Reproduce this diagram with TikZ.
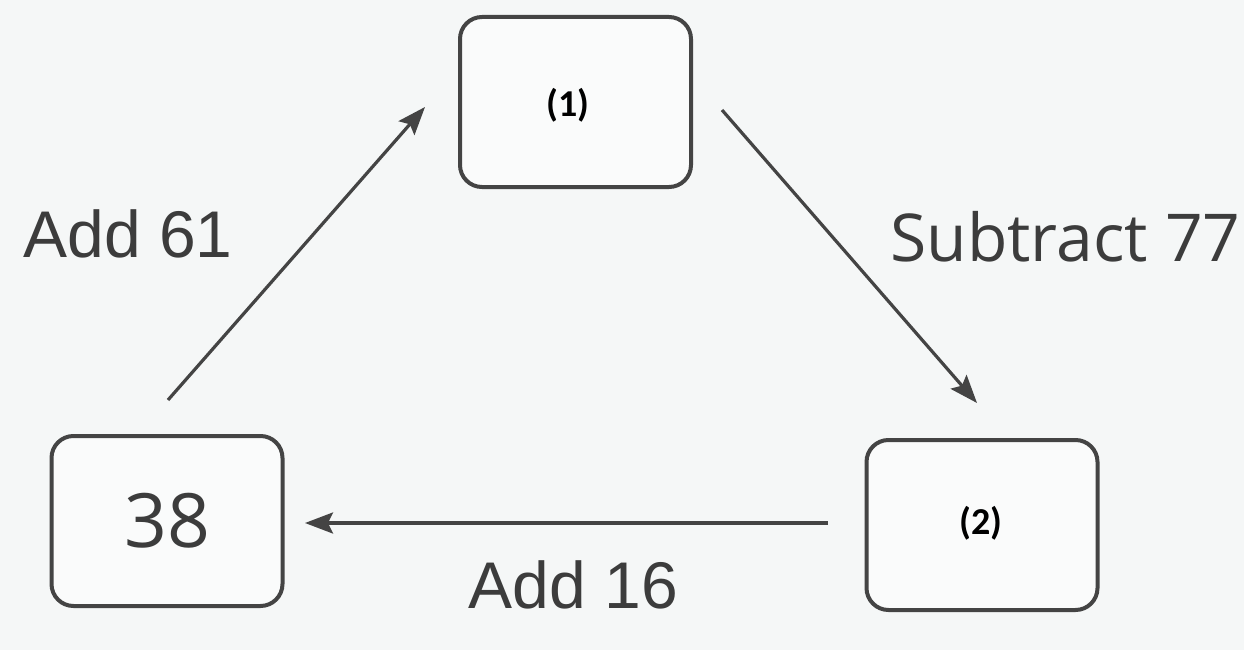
\documentclass[tikz,border=0pt]{standalone}
\usepackage{fontspec}
\setmainfont{Liberation Sans}
\newfontfamily\humfont{Open Sans}
\newfontfamily\calfont{Carlito}
\usetikzlibrary{arrows.meta}
\definecolor{bgc}{HTML}{F5F7F7}
\definecolor{ink}{HTML}{444444}
\definecolor{txt}{HTML}{3C3C3C}
\tikzset{
  box/.style={draw=ink, line width=4pt, rounded corners=22pt, fill=white!50!bgc,
    minimum width=231pt, minimum height=170pt, inner sep=0pt},
  arr/.style={draw=ink, line width=3.2pt, -{Stealth[length=28pt,width=21pt,inset=5pt]}},
  lbl/.style={text=txt, inner sep=0pt, anchor=base, font=\fontsize{66}{70}\selectfont},
  num/.style={font=\calfont\bfseries\fontsize{38}{40}\selectfont, text=black}
}
\begin{document}
\begin{tikzpicture}[x=1pt,y=-1pt]
\fill[bgc] (0,0) rectangle (1244,650);
\useasboundingbox (0,0) rectangle (1244,650);
\node[box] (b1) at (575.5,102) {};
\node[box] (b38) at (167,521) {};
\node[box] (b2) at (982,525) {};
\node[num] (t1) at (568,105) {(1)};
\node[num] (t2) at (981,523) {(2)};
\node[text=txt, inner sep=0pt, font=\humfont\fontsize{75}{80}\selectfont] (t38) at (167,521) {38};
\coordinate (a1s) at (168,400);
\coordinate (a1e) at (425,107);
\coordinate (a2s) at (722,110);
\coordinate (a2e) at (977,403);
\coordinate (a3s) at (828,523);
\coordinate (a3e) at (305,523);
\draw[arr] (a1s) -- (a1e);
\draw[arr] (a2s) -- (a2e);
\draw[arr] (a3s) -- (a3e);
\node[lbl] (l1) at (128,257) {Add 61};
\node[lbl, font=\humfont\fontsize{66}{70}\selectfont] (l2) at (1065.5,261) {Subtract 77};
\node[lbl] (l3) at (573.5,608) {Add 16};
\end{tikzpicture}
\end{document}
